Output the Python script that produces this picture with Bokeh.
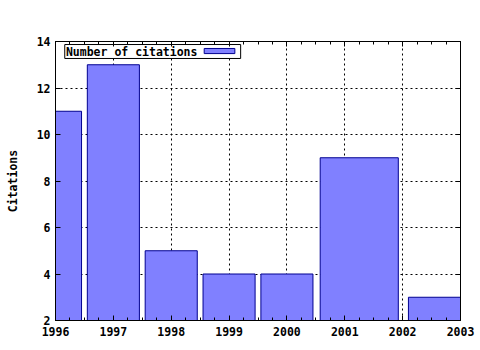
from bokeh.plotting import figure
from bokeh.models import (ColumnDataSource, LinearAxis, FixedTicker, Range1d,
                          CustomJSTickFormatter)
from bokeh.core.properties import value
from bokeh.embed import file_html
from bokeh.resources import INLINE

years = [1996, 1997, 1998, 1999, 2000, 2001, 2003]
citations = [11, 13, 5, 4, 4, 9, 3]
x_ticks = [1996, 1997, 1998, 1999, 2000, 2001, 2002, 2003]
y_ticks = [2, 4, 6, 8, 10, 12, 14]
legend_label = "Number of citations"
y_label = "Citations"

FONT = "DejaVu Sans Mono"
FS = "11.5px"

# gnuplot-style boxes: each box spans half-way to its neighbours, scaled to 0.9
lefts, rights = [], []
n = len(years)
for i in range(n):
    hr = (years[i + 1] - years[i]) / 2 if i < n - 1 else None
    hl = (years[i] - years[i - 1]) / 2 if i > 0 else None
    if hl is None:
        hl = hr
    if hr is None:
        hr = hl
    l, r = years[i] - hl, years[i] + hr
    c, w = (l + r) / 2, (r - l) * 0.9
    lefts.append(c - w / 2)
    rights.append(c + w / 2)

src = ColumnDataSource(dict(left=lefts, right=rights, top=citations,
                            bottom=[0] * n))

p = figure(width=480, height=350, output_backend="svg", toolbar_location=None,
           x_range=Range1d(x_ticks[0], x_ticks[-1]),
           y_range=Range1d(y_ticks[0], y_ticks[-1]),
           min_border_left=55, min_border_right=20,
           min_border_top=41, min_border_bottom=30)
p.background_fill_color = "white"
p.border_fill_color = "white"
p.outline_line_color = "black"
p.outline_line_width = 1

p.quad(left="left", right="right", top="top", bottom="bottom", source=src,
       fill_color="#8080ff", line_color="#000090", line_width=1)

# legend (gnuplot style: text then sample)
p.quad(left=[1996.16], right=[1999.2], top=[13.87], bottom=[13.27],
       fill_color="white", line_color="black", line_width=1)
p.text(x=[1996.18], y=[13.56], text=[legend_label], text_font=value(FONT),
       text_font_size=FS, text_font_style="bold", text_baseline="middle",
       text_align="left", text_color="black")
p.quad(left=[1998.57], right=[1999.1], top=[13.7], bottom=[13.48],
       fill_color="#8080ff", line_color="#000090", line_width=1)

for ax in (p.xaxis[0], p.yaxis[0]):
    ax.major_tick_in = 5
    ax.major_tick_out = 0
    ax.axis_line_color = "black"
    ax.major_tick_line_color = "black"
    ax.minor_tick_line_color = "black"
    ax.major_label_text_font = FONT
    ax.major_label_text_font_size = FS
    ax.major_label_text_font_style = "bold"
    ax.major_label_text_color = "black"

minor_x = [x_ticks[0] + k * 0.25 for k in range(4 * (x_ticks[-1] - x_ticks[0]) + 1)]
p.xaxis[0].ticker = FixedTicker(ticks=x_ticks, minor_ticks=minor_x)
p.xaxis[0].minor_tick_in = 3
p.xaxis[0].minor_tick_out = 0
p.xaxis[0].major_label_standoff = 6
p.yaxis[0].ticker = FixedTicker(ticks=y_ticks, minor_ticks=[])
p.yaxis[0].major_label_standoff = 5
p.yaxis[0].axis_label = y_label
p.yaxis[0].axis_label_text_font = FONT
p.yaxis[0].axis_label_text_font_size = FS
p.yaxis[0].axis_label_text_font_style = "bold"
p.yaxis[0].axis_label_standoff = 14
p.yaxis[0].axis_label_text_color = "black"

blank = CustomJSTickFormatter(code="return ''")
top_ax = LinearAxis(ticker=FixedTicker(ticks=x_ticks, minor_ticks=minor_x),
                    formatter=blank, major_label_standoff=0,
                    major_tick_in=5, major_tick_out=0,
                    minor_tick_in=3, minor_tick_out=0)
right_ax = LinearAxis(ticker=FixedTicker(ticks=y_ticks, minor_ticks=[]),
                      formatter=blank, major_label_standoff=0,
                      major_tick_in=5, major_tick_out=0)
p.add_layout(top_ax, "above")
p.add_layout(right_ax, "right")

for g in (p.xgrid[0], p.ygrid[0]):
    g.grid_line_color = "black"
    g.grid_line_dash = "2 3"
    g.grid_line_width = 1
p.xgrid[0].ticker = FixedTicker(ticks=x_ticks)
p.ygrid[0].ticker = FixedTicker(ticks=y_ticks)

open("out.html", "w").write(file_html(p, INLINE))
